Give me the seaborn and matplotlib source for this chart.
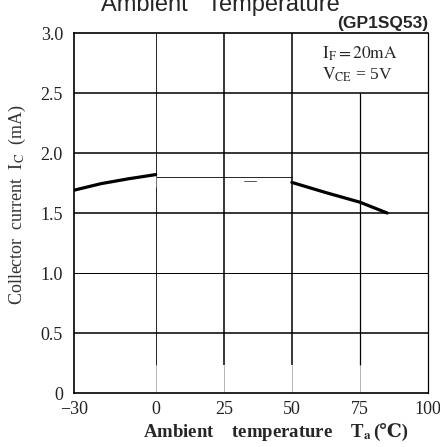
import matplotlib
matplotlib.use("Agg")
import matplotlib.pyplot as plt
import seaborn as sns
import pandas as pd

# ── Data ─────────────────────────────────────────────────────
temp_cold = [-30, -20, -10, 0]
ic_cold = [1.69, 1.745, 1.785, 1.82]
temp_hot = [50, 62.5, 75, 85]
ic_hot = [1.755, 1.67, 1.59, 1.50]
temp_mid = [0, 50]
ic_mid = [1.80, 1.80]

x_ticks = [-30, 0, 25, 50, 75, 100]
x_labels = ["\u221230", "0", "25", "50", "75", "100"]
y_ticks = [0, 0.5, 1.0, 1.5, 2.0, 2.5, 3.0]
y_labels = ["0", "0.5", "1.0", "1.5", "2.0", "2.5", "3.0"]

grid_y = [0.5, 1.0, 1.5, 2.0, 2.5]
grid_y_lw = [1.1, 0.7, 1.1, 1.1, 1.1]
grid_x = [0, 25, 50, 75]
grid_x_top = [3.0, 3.0, 3.0, 2.5]
grid_x_lw = [0.6, 1.1, 1.1, 0.9]

curve = pd.DataFrame({
    "temp": temp_cold + temp_hot,
    "ic": ic_cold + ic_hot,
    "seg": ["cold"] * len(temp_cold) + ["hot"] * len(temp_hot),
})

# ── Style ────────────────────────────────────────────────────
sns.set_style("white")
plt.rcParams["font.family"] = ["Liberation Serif", "DejaVu Serif", "DejaVu Sans"]
plt.rcParams["mathtext.fontset"] = "stix"

fig = plt.figure(figsize=(4.4, 4.47), dpi=100)
ax = fig.add_axes([74 / 440, 54 / 447, 354 / 440, 360 / 447])

# grid (drawn by hand: the 75 line stops under the condition box)
for yv, lw in zip(grid_y, grid_y_lw):
    ax.axhline(yv, color="black", lw=lw, zorder=1)
for xv, top, lw in zip(grid_x, grid_x_top, grid_x_lw):
    ax.vlines(xv, 0.23, top, color="black", lw=lw, zorder=1)
    ax.vlines(xv, 0, 0.23, color="#9a9a9a", lw=0.5, zorder=1)

# curve
sns.lineplot(data=curve, x="temp", y="ic", units="seg", estimator=None,
             color="black", lw=2.3, ax=ax, zorder=3)
sns.lineplot(x=temp_mid, y=ic_mid, color="black", lw=0.6, ax=ax, zorder=2)
ax.plot([32.5, 37], [1.77, 1.77], color="#555555", lw=0.7)
ax.vlines(0, 1.72, 1.81, color="#999999", lw=0.5)

ax.set_xlim(-30, 100)
ax.set_ylim(0, 3.0)
ax.set_xticks(x_ticks)
ax.set_xticklabels(x_labels)
ax.set_yticks(y_ticks)
ax.set_yticklabels(y_labels)
ax.tick_params(length=0, labelsize=13, colors="#222222")
ax.tick_params(axis="x", pad=6)
ax.tick_params(axis="y", pad=8)
ax.set_xlabel("")
ax.set_ylabel("")

for side in ["left", "top", "bottom"]:
    ax.spines[side].set_linewidth(1.2)
    ax.spines[side].set_color("black")
ax.spines["right"].set_linewidth(0.9)
ax.spines["right"].set_color("black")

# conditions
ax.text(75, 2.83, r"$\mathrm{I_F = 20mA}$", ha="center", va="center",
        fontsize=12.5)
ax.text(74, 2.65, r"$\mathrm{V_{CE}}$ = 5V", ha="center", va="center",
        fontsize=12.5)

# axis labels
fig.text(0.04, 1 - 205 / 447, r"Collector  current  I$_\mathrm{C}$  (mA)",
         rotation=90, ha="center", va="center", fontsize=13, color="#333333")

# x label in two pieces: mathtext for the subscript, plain text for ℃
xl1 = fig.text(143 / 440, 1 - 437 / 447,
               r"Ambient    temperature    T$_\mathbf{a}$",
               ha="left", va="baseline", fontsize=13.5, fontweight="bold")
fig.canvas.draw()
bb = xl1.get_window_extent()
fig.text(bb.x1 / fig.bbox.width + 0.003, 1 - 437 / 447, "(\u2103)",
         ha="left", va="baseline", fontsize=13.5, fontweight="bold")

# title (cut off at the top in the source) and part number
fig.text(220 / 440, 1 - 11 / 447, "Ambient   Temperature",
         ha="center", va="baseline", fontsize=17, family="Liberation Sans")
fig.text(428 / 440, 1 - 28 / 447, "(GP1SQ53)", ha="right", va="baseline",
         fontsize=12.5, fontweight="bold", family="Liberation Sans")

fig.savefig("out.png", dpi=100)
